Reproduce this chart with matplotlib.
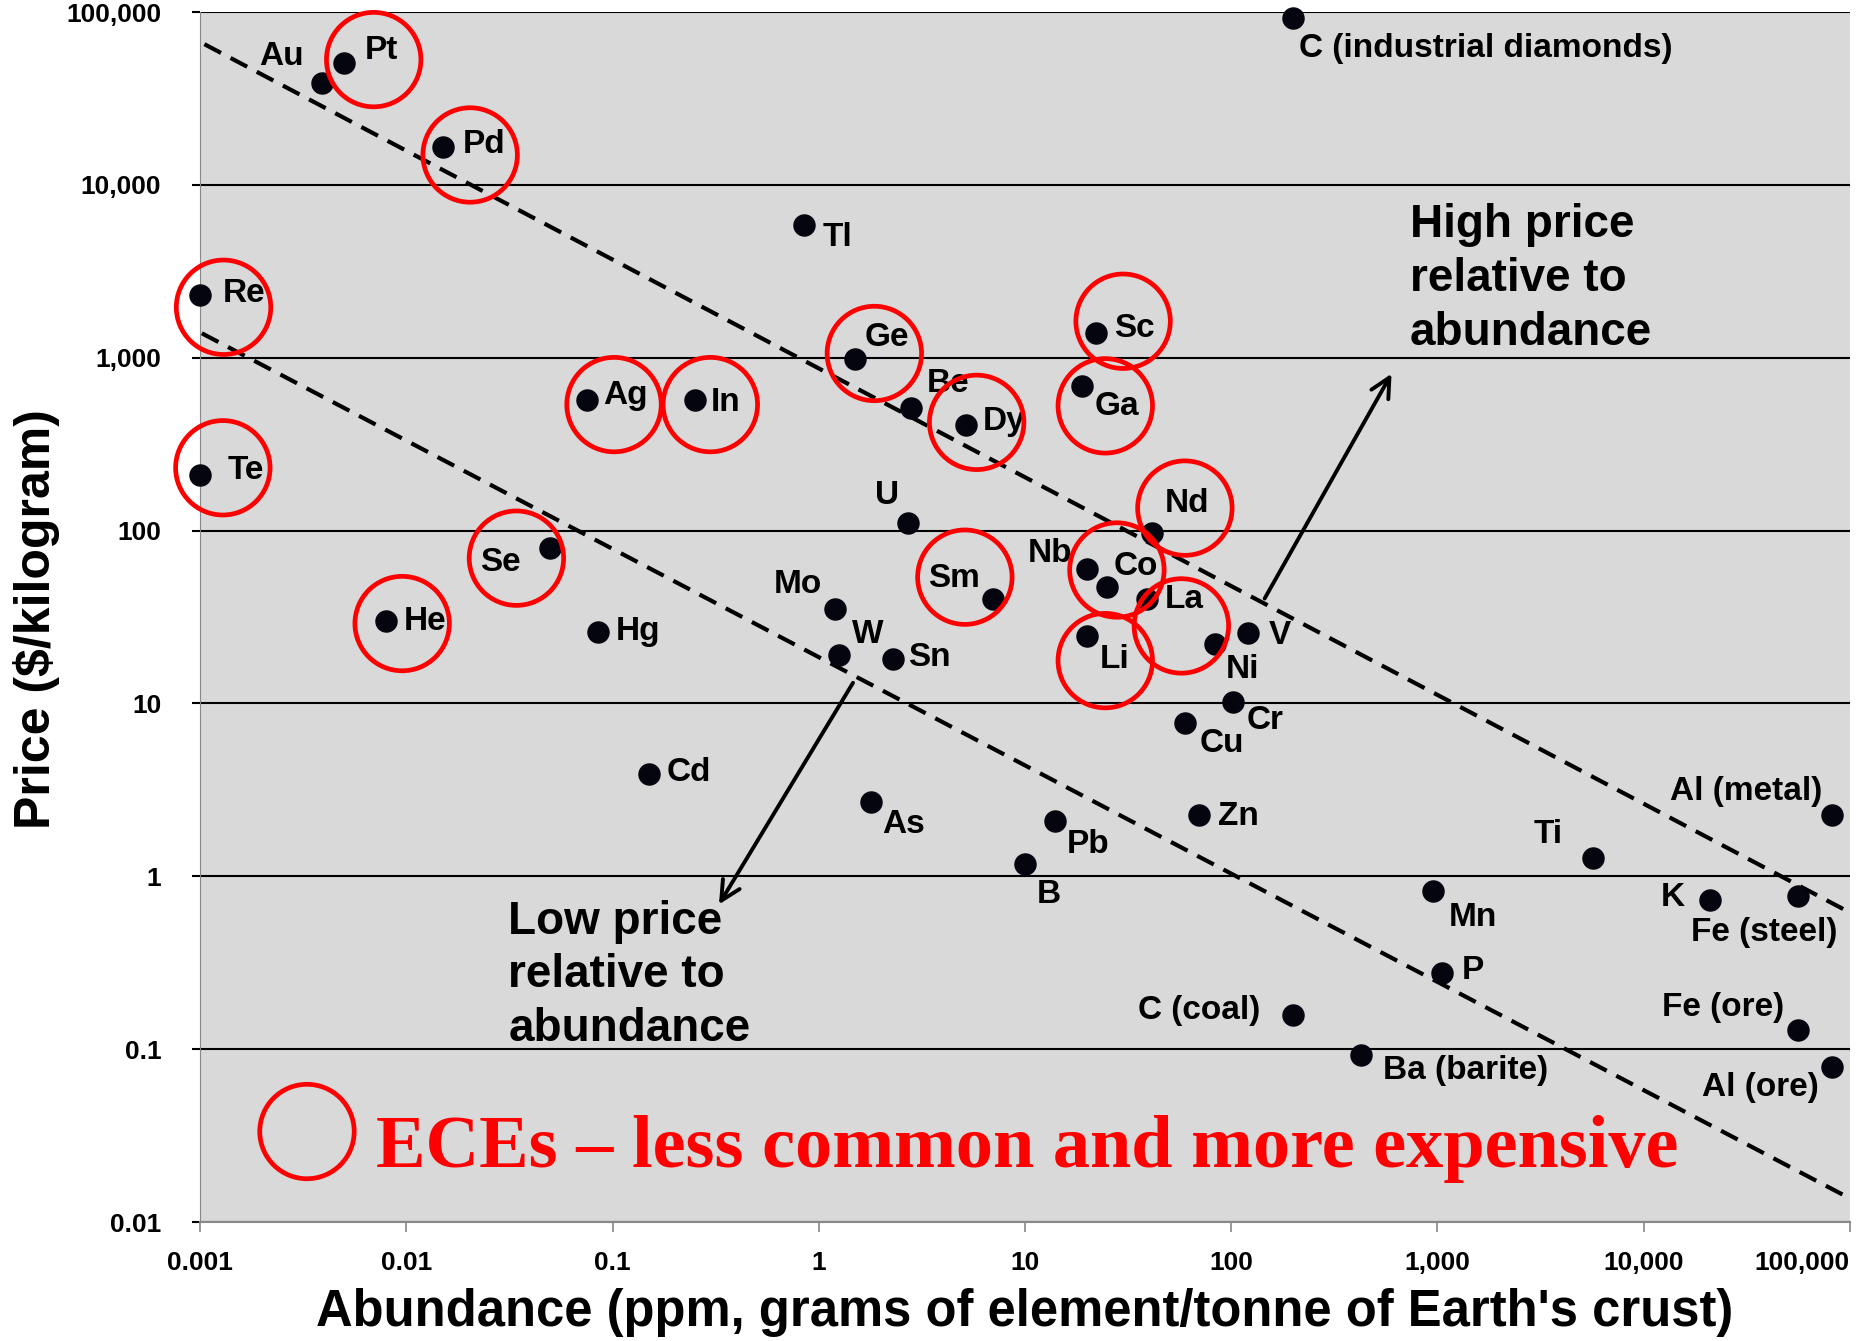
import matplotlib
matplotlib.use("Agg")
import matplotlib.pyplot as plt

plt.rcParams['font.family'] = ['Liberation Sans', 'DejaVu Sans']
plt.rcParams['font.weight'] = 'bold'

# ---------------- data ----------------
elements = ["Au", "Pt", "Pd", "Re", "Te", "Ag", "In", "Tl", "Ge", "Be", "Dy", "Sc", "Ga",
            "U", "Se", "He", "Hg", "Mo", "W", "Sn", "Sm", "Nb", "Co", "Nd", "La", "Li",
            "Ni", "V", "Cr", "Cu", "Cd", "As", "Pb", "B", "Zn",
            "C (industrial diamonds)", "Ti", "Al (metal)", "Mn", "K", "Fe (steel)", "P",
            "C (coal)", "Fe (ore)", "Ba (barite)", "Al (ore)"]
abundance = [0.0039, 0.005, 0.015, 0.001, 0.001, 0.075, 0.25, 0.85, 1.5, 2.8, 5.2, 22, 19,
             2.7, 0.05, 0.008, 0.085, 1.2, 1.25, 2.3, 7, 20, 25, 41.5, 39, 20,
             83, 120, 102, 60, 0.15, 1.8, 14, 10, 70,
             200, 5650, 82000, 950, 21000, 56000, 1050,
             200, 56000, 425, 82000]
price = [39000, 51000, 16500, 2300, 210, 570, 570, 5900, 980, 510, 410, 1400, 690,
         110, 79, 30, 26, 35, 19, 18, 40, 60, 47, 97, 40, 24.5,
         22, 25.5, 10.2, 7.7, 3.9, 2.7, 2.1, 1.18, 2.25,
         92000, 1.28, 2.25, 0.82, 0.73, 0.77, 0.275,
         0.158, 0.13, 0.092, 0.079]

# ECE circles (centre of each red ring)
ece_names = ["Pt", "Pd", "Re", "Te", "Ag", "In", "Ge", "Dy", "Sc", "Ga", "Se", "He",
             "Sm", "Nd", "Co", "La", "Li"]
ece_x = [0.00695, 0.0204, 0.0013, 0.00129, 0.1017, 0.298, 1.86, 5.83, 29.9, 24.5, 0.0342,
         0.00955, 5.11, 59.6, 27.9, 57.3, 24.5]
ece_y = [53100, 14900, 1960, 231, 536, 536, 1059, 423, 1627, 527, 69.3, 29.0,
         53.8, 135, 59.2, 28.1, 17.7]

# guide lines (endpoints)
upper_x = [0.00105, 100000]
upper_y = [65200, 0.617]
lower_x = [0.00102, 100000]
lower_y = [1386, 0.0137]

xticks = [0.001, 0.01, 0.1, 1, 10, 100, 1000, 10000, 100000]
xtick_labels = ["0.001", "0.01", "0.1", "1", "10", "100", "1,000", "10,000", "100,000"]
yticks = [0.01, 0.1, 1, 10, 100, 1000, 10000, 100000]
ytick_labels = ["0.01", "0.1", "1", "10", "100", "1,000", "10,000", "100,000"]

# label offsets in points (dx, dy, ha)
offsets = {
    "Au": (-29, 19, "center"), "Pt": (27, 9, "center"), "Pd": (30, 2, "center"),
    "Re": (32, 1, "center"), "Te": (33, 3, "center"), "Ag": (28, 3, "center"),
    "In": (22, -2, "center"), "Tl": (24, -9, "center"), "Ge": (23, 16, "center"),
    "Be": (27, 18, "center"), "Dy": (27, 2, "center"), "Sc": (28, 3, "center"),
    "Ga": (25, -15, "center"), "U": (-15, 20, "center"), "Se": (-36, -10, "center"),
    "He": (28, 0, "center"), "Hg": (29, 0, "center"), "Mo": (-27, 18, "center"),
    "W": (21, 15, "center"), "Sn": (26, 1, "center"), "Sm": (-28, 15, "center"),
    "Nb": (-27, 11, "center"), "Co": (21, 15, "center"), "Nd": (25, 21, "center"),
    "La": (27, 0, "center"), "Li": (20, -17, "center"), "Ni": (20, -18, "center"),
    "V": (23, -2, "center"), "Cr": (23, -13, "center"), "Cu": (26, -15, "center"),
    "Cd": (29, 1, "center"), "As": (23, -16, "center"), "Pb": (24, -17, "center"),
    "B": (17, -22, "center"), "Zn": (28, -1, "center"),
    "C (industrial diamonds)": (4, -22, "left"), "Ti": (-32, 17, "center"),
    "Al (metal)": (-7, 17, "right"), "Mn": (29, -19, "center"), "K": (-27, 2, "center"),
    "Fe (steel)": (-24, -26, "center"), "P": (22, 2, "center"),
    "C (coal)": (-24, 3, "right"), "Fe (ore)": (-10, 16, "right"),
    "Ba (barite)": (16, -11, "left"), "Al (ore)": (-10, -15, "right"),
}

# ---------------- plot ----------------
fig = plt.figure(figsize=(18.66, 13.41), dpi=100)
ax = fig.add_axes([0.1072, 0.0887, 0.8842, 0.9023])
ax.set_facecolor("#d9d9d9")
ax.set_xscale("log")
ax.set_yscale("log")
ax.set_xlim(0.001, 100000)
ax.set_ylim(0.01, 100000)

ax.set_xticks(xticks)
ax.set_xticklabels(xtick_labels)
ax.set_yticks(yticks)
ax.set_yticklabels(ytick_labels)
ax.minorticks_off()
ax.tick_params(axis="x", length=7, width=1.2, color="#888888", labelsize=19, pad=14)
ax.tick_params(axis="y", length=6, width=1.5, color="black", labelsize=19, pad=22)
ax.get_xticklabels()[-1].set_horizontalalignment("right")
ax.yaxis.grid(True, color="black", lw=1.5)
ax.set_axisbelow(True)
for s in ["top", "right"]:
    ax.spines[s].set_visible(False)
ax.spines["left"].set_color("#888888")
ax.spines["bottom"].set_color("#888888")
ax.spines["bottom"].set_linewidth(1.5)

ax.plot(upper_x, upper_y, color="black", lw=3.0, ls=(0, (4.5, 2.6)), zorder=2)
ax.plot(lower_x, lower_y, color="black", lw=3.0, ls=(0, (4.5, 2.6)), zorder=2)

ax.scatter(abundance, price, s=230, color="#05050f", zorder=3, clip_on=False)

for name, x, y in zip(elements, abundance, price):
    dx, dy, ha = offsets[name]
    ax.annotate(name, (x, y), xytext=(dx, dy), textcoords="offset points",
                ha=ha, va="center", fontsize=24, fontweight="bold", zorder=4)

ax.scatter(ece_x, ece_y, s=68 ** 2, facecolors="none", edgecolors="#ff0000",
           linewidths=3.4, zorder=5, clip_on=False)

# arrows
ax.annotate("", xy=(608, 835), xytext=(143, 39.2),
            arrowprops=dict(arrowstyle="->", lw=2.8, color="black", mutation_scale=35))
ax.annotate("", xy=(0.323, 0.667), xytext=(1.49, 13.6),
            arrowprops=dict(arrowstyle="->", lw=2.8, color="black", mutation_scale=35))

ax.text(733, 7810, "High price\nrelative to\nabundance", fontsize=33, fontweight="bold",
        ha="left", va="top", linespacing=1.28)
ax.text(0.0312, 0.734, "Low price\nrelative to\nabundance", fontsize=33, fontweight="bold",
        ha="left", va="top", linespacing=1.28)

# ECE key
ax.scatter([0.0033], [0.0334], s=68 ** 2, facecolors="none", edgecolors="#ff0000",
           linewidths=3.4, zorder=5)
ax.text(0.00715, 0.0264, "ECEs \u2013 less common and more expensive", color="#ff0000",
        fontsize=53.5, fontweight="bold", family=["Liberation Serif", "DejaVu Serif"],
        ha="left", va="center")

fig.text(0.5493, 0.0209, "Abundance (ppm, grams of element/tonne of Earth's crust)",
         fontsize=36.5, fontweight="bold", ha="center", va="center")
fig.text(0.0193, 0.538, "Price ($/kilogram)", fontsize=36, fontweight="bold",
         rotation=90, ha="center", va="center")

fig.savefig("out.png", dpi=100)
